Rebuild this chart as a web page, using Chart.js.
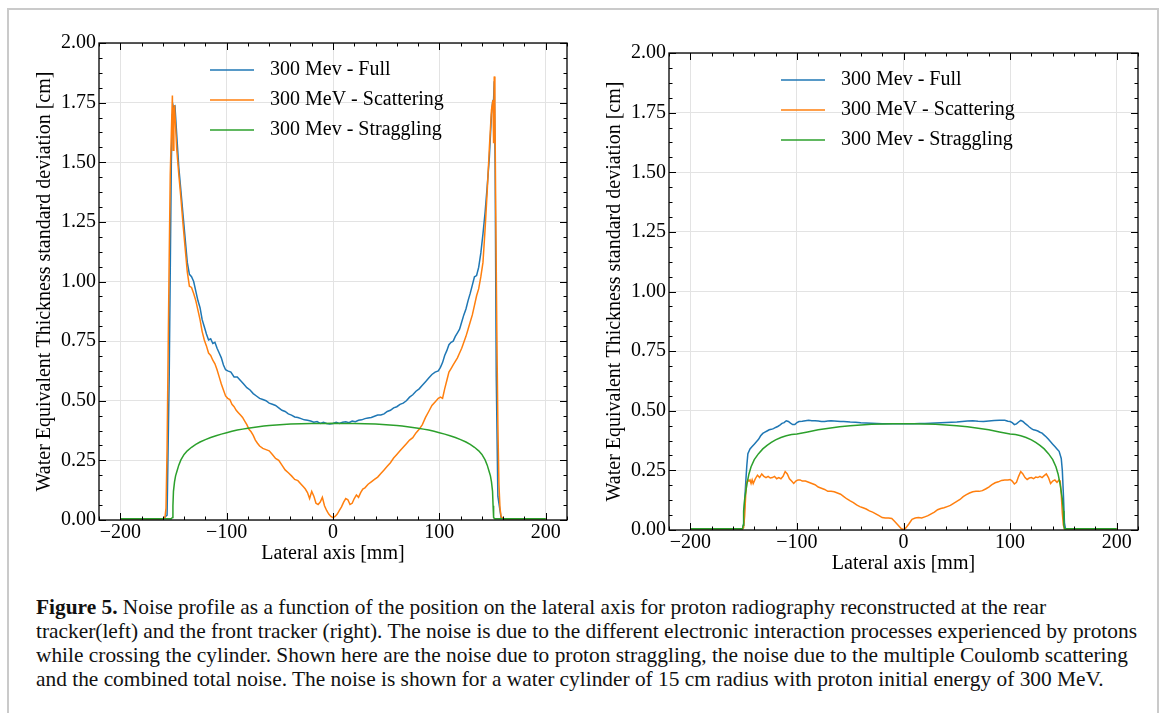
<!DOCTYPE html>
<html>
<head>
<meta charset="utf-8">
<script src="https://cdn.jsdelivr.net/npm/chart.js@4.4.0/dist/chart.umd.min.js"></script>
<style>
body{margin:0;background:#fff;width:1165px;height:713px;overflow:hidden;position:relative}
#frame{position:absolute;left:7px;top:8px;width:1152px;height:730px;border:2px solid #cacaca;box-sizing:border-box}
#c1{position:absolute;left:0;top:0}
#c2{position:absolute;left:590px;top:0}
#caption{position:absolute;left:36px;top:595px;font-family:"Liberation Serif","Times New Roman",serif;font-size:21px;line-height:24px;color:#111;transform-origin:0 0;white-space:nowrap}
#caption b{font-weight:bold}
</style>
</head>
<body>
<div id="frame"></div>
<canvas id="c1" width="590" height="580"></canvas>
<canvas id="c2" width="575" height="580"></canvas>
<div id="caption">
<div id="l1"><b>Figure 5.</b> Noise profile as a function of the position on the lateral axis for proton radiography reconstructed at the rear</div>
<div id="l2">tracker(left) and the front tracker (right). The noise is due to the different electronic interaction processes experienced by protons</div>
<div id="l3">while crossing the cylinder. Shown here are the noise due to proton straggling, the noise due to the multiple Coulomb scattering</div>
<div id="l4">and the combined total noise. The noise is shown for a water cylinder of 15 cm radius with proton initial energy of 300 MeV.</div>
</div>
<script>
// labels, colours, ticks
const seriesLabels = ['300 Mev - Full', '300 MeV - Scattering', '300 Mev - Straggling'];
const seriesColors = ['#1f77b4', '#ff7f0e', '#2ca02c'];
const xTickValues = [-200, -100, 0, 100, 200];
const yTickValues = [0, 0.25, 0.5, 0.75, 1, 1.25, 1.5, 1.75, 2];
const xTitle = 'Lateral axis [mm]';
const yTitle = 'Water Equivalent Thickness standard deviation [cm]';

// left panel (rear tracker)
const leftFullX = [-200,-160,-156,-154,-152,-151,-150.5,-149.5,-148.5,-147,-145,-143,-141,-139,-137,-135,-133,-131,-129,-127,-125,-123,-121,-119,-117,-115,-113,-111,-109,-107,-105,-103,-101,-99,-96,-93,-90,-87,-84,-81,-78,-75,-72,-69,-66,-63,-60,-57,-54,-51,-48,-45,-42,-39,-36,-33,-30,-27,-24,-21,-18,-15,-12,-9,-6,-3,0,3,6,9,12,15,18,21,24,27,30,33,36,39,42,45,48,51,54,57,60,63,66,69,72,75,78,81,84,87,90,93,96,99,101,103,105,107,109,111,113,115,117,119,121,123,125,127,129,131,133,135,137,139,141,143,145,147,149,150,150.8,151.6,152.4,153.5,155,158,160,200];
const leftFullY = [0.005,0.005,0.02,0.6,1.5,1.7,1.74,1.72,1.73,1.62,1.48,1.38,1.28,1.18,1.08,1.03,1.02,1.0,0.96,0.92,0.89,0.84,0.81,0.78,0.755,0.76,0.74,0.745,0.72,0.7,0.68,0.65,0.63,0.625,0.62,0.6,0.6,0.585,0.57,0.555,0.545,0.53,0.52,0.51,0.505,0.5,0.49,0.485,0.48,0.47,0.46,0.455,0.445,0.44,0.432,0.43,0.425,0.42,0.418,0.415,0.41,0.413,0.405,0.41,0.405,0.403,0.405,0.41,0.405,0.41,0.412,0.408,0.415,0.412,0.418,0.42,0.425,0.428,0.43,0.435,0.44,0.44,0.445,0.455,0.46,0.47,0.475,0.485,0.49,0.5,0.515,0.525,0.54,0.55,0.565,0.58,0.595,0.61,0.62,0.625,0.64,0.66,0.69,0.71,0.735,0.745,0.75,0.77,0.785,0.8,0.83,0.86,0.885,0.92,0.95,0.985,1.02,1.025,1.06,1.12,1.2,1.29,1.4,1.52,1.7,1.75,1.74,1.84,1.5,0.6,0.1,0.01,0.005,0.005];

const leftScatX = [-200,-160,-158,-157,-156,-155,-154,-153,-152,-151,-150.4,-149.6,-149,-148,-147,-145,-143,-141,-139,-137,-135,-133,-131,-129,-127,-125,-123,-121,-119,-117,-115,-113,-111,-109,-107,-105,-103,-101,-99,-97,-95,-93,-91,-89,-87,-85,-83,-81,-79,-77,-75,-73,-71,-69,-66,-63,-60,-57,-54,-51,-48,-45,-42,-39,-36,-33,-30,-28,-26,-24,-22,-20,-18,-16,-14,-12,-10,-8,-6,-4,-2,0,2,4,6,8,10,12,14,16,18,20,22,24,26,28,30,33,36,39,42,45,48,51,54,57,60,63,66,69,72,75,78,81,84,87,90,93,96,99,101,103,105,107,109,111,113,115,117,119,121,123,125,127,129,131,133,135,137,139,141,143,145,147,149,150.4,151,151.6,152.2,153,154,155,156,157,158,160,200];
const leftScatY = [0.005,0.005,0.01,0.05,0.3,0.7,1.1,1.45,1.62,1.78,1.55,1.72,1.74,1.65,1.56,1.45,1.35,1.24,1.14,1.04,0.98,0.975,0.95,0.92,0.88,0.84,0.79,0.755,0.73,0.7,0.69,0.67,0.655,0.63,0.6,0.57,0.545,0.52,0.51,0.505,0.485,0.475,0.46,0.45,0.44,0.43,0.415,0.4,0.38,0.37,0.355,0.335,0.322,0.31,0.3,0.295,0.29,0.275,0.258,0.25,0.23,0.21,0.198,0.185,0.17,0.165,0.15,0.14,0.13,0.115,0.09,0.12,0.1,0.07,0.065,0.075,0.095,0.06,0.04,0.025,0.015,0.01,0.015,0.025,0.04,0.055,0.075,0.09,0.085,0.065,0.07,0.09,0.105,0.095,0.115,0.13,0.135,0.15,0.16,0.17,0.18,0.195,0.21,0.225,0.24,0.26,0.275,0.29,0.305,0.32,0.335,0.345,0.365,0.38,0.4,0.43,0.455,0.48,0.495,0.51,0.515,0.51,0.55,0.585,0.62,0.635,0.65,0.665,0.68,0.7,0.72,0.745,0.77,0.8,0.83,0.86,0.9,0.94,0.97,1.02,1.08,1.22,1.38,1.56,1.72,1.76,1.58,1.86,1.75,1.3,0.8,0.4,0.15,0.05,0.015,0.005,0.005];

const leftStragX = [-200,-152,-151,-150.5,-150,-149,-148,-147,-145,-143,-140,-137,-133,-129,-125,-120,-115,-110,-105,-100,-95,-90,-85,-80,-75,-70,-65,-60,-50,-40,-30,-20,-10,0,10,20,30,40,50,60,65,70,75,80,85,90,95,100,105,110,115,120,125,129,133,137,140,143,145,147,148,149,150,150.5,151,152,200];
const leftStragY = [0.005,0.005,0.01,0.06,0.12,0.16,0.185,0.2,0.23,0.252,0.275,0.29,0.305,0.317,0.327,0.337,0.346,0.353,0.36,0.366,0.372,0.377,0.381,0.385,0.388,0.391,0.394,0.396,0.399,0.402,0.404,0.405,0.405,0.406,0.405,0.405,0.404,0.402,0.399,0.396,0.394,0.391,0.388,0.385,0.381,0.377,0.372,0.366,0.36,0.353,0.346,0.337,0.327,0.317,0.305,0.29,0.275,0.252,0.23,0.2,0.185,0.16,0.12,0.06,0.01,0.005,0.005];

// right panel (front tracker)
const rightFullX = [-200,-151,-150,-149,-148,-147,-146,-144,-142,-140,-138,-136,-134,-132,-130,-128,-126,-124,-122,-120,-118,-116,-114,-112,-110,-108,-106,-104,-102,-100,-98,-95,-92,-89,-86,-83,-80,-77,-74,-71,-68,-65,-62,-59,-56,-53,-50,-45,-40,-35,-30,-25,-20,-15,-10,-5,0,5,10,15,20,25,30,35,40,45,50,55,60,65,70,75,80,85,90,95,98,100,102,104,106,108,110,112,114,116,118,120,122,124,126,128,130,132,134,136,138,140,142,144,146,148,149,150,151,152,200];
const rightFullY = [0.005,0.005,0.02,0.12,0.2,0.27,0.32,0.34,0.35,0.36,0.37,0.38,0.395,0.405,0.41,0.415,0.42,0.422,0.425,0.43,0.434,0.44,0.447,0.45,0.458,0.455,0.448,0.442,0.442,0.45,0.455,0.456,0.458,0.46,0.458,0.458,0.457,0.455,0.455,0.457,0.458,0.457,0.456,0.455,0.455,0.454,0.453,0.452,0.45,0.449,0.448,0.447,0.446,0.446,0.445,0.445,0.445,0.446,0.446,0.447,0.447,0.448,0.449,0.45,0.451,0.452,0.453,0.455,0.457,0.458,0.456,0.455,0.457,0.459,0.46,0.46,0.456,0.455,0.45,0.442,0.445,0.453,0.46,0.455,0.447,0.44,0.432,0.425,0.42,0.418,0.415,0.41,0.406,0.398,0.39,0.38,0.37,0.36,0.35,0.34,0.33,0.3,0.25,0.15,0.03,0.005,0.005];

const rightScatX = [-200,-151,-150,-149,-148,-147,-146,-145,-144,-143,-142,-141,-140,-139,-137,-135,-133,-131,-129,-127,-125,-123,-121,-119,-117,-115,-113,-111,-109,-107,-105,-103,-101,-99,-97,-95,-92,-89,-86,-83,-80,-77,-74,-71,-68,-65,-62,-59,-56,-53,-50,-47,-44,-41,-38,-35,-32,-29,-26,-23,-20,-17,-14,-11,-8,-5,-2,0,2,5,8,11,14,17,20,23,26,29,32,35,38,41,44,47,50,53,56,59,62,65,68,71,74,77,80,83,86,89,92,95,98,100,102,104,106,108,110,112,114,116,118,120,122,124,126,128,130,132,134,136,138,140,142,144,146,147,148,149,150,151,200];
const rightScatY = [0.005,0.005,0.01,0.06,0.15,0.2,0.21,0.205,0.21,0.195,0.21,0.195,0.205,0.215,0.23,0.22,0.235,0.225,0.22,0.225,0.218,0.22,0.225,0.215,0.22,0.215,0.225,0.245,0.235,0.215,0.205,0.195,0.205,0.21,0.21,0.205,0.205,0.2,0.195,0.19,0.18,0.175,0.17,0.162,0.162,0.16,0.155,0.15,0.14,0.13,0.122,0.115,0.105,0.098,0.093,0.088,0.08,0.075,0.068,0.06,0.052,0.05,0.05,0.048,0.035,0.02,0.005,0.002,0.008,0.025,0.045,0.05,0.052,0.05,0.055,0.06,0.068,0.075,0.085,0.09,0.093,0.098,0.103,0.112,0.12,0.128,0.14,0.148,0.155,0.16,0.162,0.162,0.165,0.172,0.18,0.19,0.198,0.202,0.208,0.21,0.21,0.212,0.205,0.193,0.2,0.225,0.245,0.235,0.22,0.212,0.218,0.22,0.215,0.222,0.22,0.225,0.22,0.228,0.235,0.22,0.195,0.205,0.21,0.2,0.21,0.205,0.15,0.07,0.02,0.005,0.005];

const rightStragX = [-200,-151,-150.5,-150,-149,-148,-147,-145,-143,-140,-136,-132,-128,-124,-120,-115,-110,-105,-100,-90,-80,-70,-60,-50,-40,-30,-20,-10,0,10,20,30,40,50,60,70,80,90,100,105,110,115,120,124,128,132,136,140,143,145,147,148,149,150,150.5,151,200];
const rightStragY = [0.005,0.005,0.02,0.08,0.13,0.16,0.19,0.235,0.265,0.295,0.32,0.34,0.355,0.367,0.378,0.388,0.395,0.4,0.403,0.411,0.42,0.427,0.433,0.437,0.44,0.443,0.444,0.445,0.445,0.445,0.444,0.443,0.44,0.437,0.433,0.427,0.42,0.411,0.403,0.4,0.395,0.388,0.378,0.367,0.355,0.34,0.32,0.295,0.265,0.235,0.19,0.16,0.13,0.08,0.02,0.005,0.005];

function pts(xs, ys) { return xs.map((x, i) => ({x: x, y: ys[i]})); }

// matplotlib-ish frame with inward ticks on all sides + legend inside
const frameTicks = {
  id: 'frameTicks',
  afterDraw(chart, args, o) {
    const ctx = chart.ctx, a = chart.chartArea, sx = chart.scales.x, sy = chart.scales.y;
    ctx.save();
    ctx.strokeStyle = '#000';
    ctx.lineWidth = 1;
    function ln(x1, y1, x2, y2) { ctx.beginPath(); ctx.moveTo(x1, y1); ctx.lineTo(x2, y2); ctx.stroke(); }
    for (let v = -220; v <= 220; v += 20) {
      const p = Math.round(sx.getPixelForValue(v)) + 0.5;
      const len = v % 100 === 0 ? 7 : 3.5;
      ln(p, a.bottom, p, a.bottom - len);
      ln(p, a.top, p, a.top + len);
    }
    for (let k = 0; k <= 32; k++) {
      const v = k * 0.0625;
      const p = Math.round(sy.getPixelForValue(v)) + 0.5;
      const len = k % 4 === 0 ? 7 : 3.5;
      ln(a.left, p, a.left + len, p);
      ln(a.right, p, a.right - len, p);
    }
    ctx.lineWidth = 1.3;
    ctx.strokeRect(a.left, a.top, a.right - a.left, a.bottom - a.top);
    // legend
    ctx.font = '20px "Liberation Serif", serif';
    ctx.textBaseline = 'middle';
    ctx.fillStyle = '#000';
    chart.data.datasets.forEach((d, i) => {
      const lx = a.left + o.dx, ly = a.top + o.dy + i * 30;
      ctx.strokeStyle = d.borderColor;
      ctx.lineWidth = 1.5;
      ln(lx, ly, lx + 44, ly);
      ctx.fillText(d.label, lx + 60, ly);
    });
    ctx.restore();
  }
};

function makeChart(id, full, scat, strag, cfg) {
  const font = {family: '"Liberation Serif", serif', size: 20};
  return new Chart(document.getElementById(id), {
    type: 'line',
    data: {
      datasets: [
        {label: seriesLabels[0], data: full, borderColor: seriesColors[0], order: 2},
        {label: seriesLabels[1], data: scat, borderColor: seriesColors[1], order: 1},
        {label: seriesLabels[2], data: strag, borderColor: seriesColors[2], order: 0}
      ].map(d => Object.assign(d, {borderWidth: 1.5, pointRadius: 0, tension: 0, fill: false}))
    },
    options: {
      responsive: false,
      animation: false,
      devicePixelRatio: 1,
      layout: {padding: {top: cfg.top, right: cfg.right, left: 0, bottom: 0}},
      plugins: {legend: {display: false}, tooltip: {enabled: false}, frameTicks: {dx: cfg.ldx, dy: cfg.ldy}},
      scales: {
        x: {
          type: 'linear', min: -220, max: 220,
          afterBuildTicks: s => { s.ticks = xTickValues.map(v => ({value: v})); },
          afterFit: s => { s.height = cfg.xh; },
          grid: {color: '#e3e3e3', lineWidth: 1, drawTicks: false},
          border: {display: false},
          ticks: {color: '#000', font: font, padding: 1, maxRotation: 0,
            callback: v => String(v).replace('-', '\u2212')},
          title: {display: true, text: xTitle, color: '#000', font: font, padding: {top: 0, bottom: cfg.xtp}}
        },
        y: {
          min: 0, max: 2,
          afterBuildTicks: s => { s.ticks = yTickValues.map(v => ({value: v})); },
          afterFit: s => { s.width = cfg.yw; },
          grid: {color: '#e3e3e3', lineWidth: 1, drawTicks: false},
          border: {display: false},
          ticks: {color: '#000', font: font, padding: 3, callback: v => Number(v).toFixed(2)},
          title: {display: true, text: yTitle, color: '#000', font: font, padding: {top: cfg.ytp, bottom: 0}}
        }
      }
    },
    plugins: [frameTicks]
  });
}

makeChart('c1', pts(leftFullX, leftFullY), pts(leftScatX, leftScatY), pts(leftStragX, leftStragY),
  {top: 43, right: 23, xh: 60, yw: 99, xtp: 14, ytp: 33, ldx: 111, ldy: 27});
makeChart('c2', pts(rightFullX, rightFullY), pts(rightScatX, rightScatY), pts(rightStragX, rightStragY),
  {top: 53, right: 27, xh: 50, yw: 79, xtp: 4, ytp: 13, ldx: 112, ldy: 27});

// squeeze caption so the second line spans like the reference
const cap = document.getElementById('caption');
const r = document.createRange();
r.selectNodeContents(document.getElementById('l2'));
const tw = r.getBoundingClientRect().width;
cap.style.transform = 'scaleX(' + (1101 / tw) + ')';
</script>
</body>
</html>
